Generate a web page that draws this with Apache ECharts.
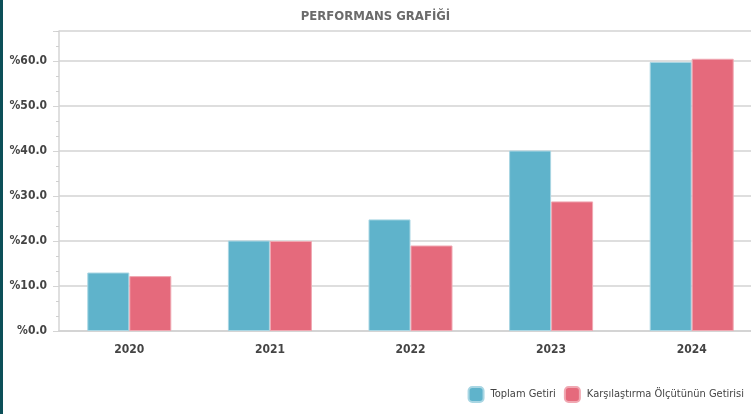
<!DOCTYPE html>
<html>
<head>
<meta charset="utf-8">
<script src="https://cdn.jsdelivr.net/npm/echarts@6/dist/echarts.min.js"></script>
<style>
  html, body { margin: 0; padding: 0; background: #fff; }
  #chart { width: 751px; height: 414px; }
  #edge { position: absolute; left: 0; top: 0; width: 3px; height: 414px; background: #0c4f58; }
</style>
</head>
<body>
<div id="chart"></div>
<div id="edge"></div>
<script>
const years = ['2020', '2021', '2022', '2023', '2024'];
const toplamGetiri = [13.0, 20.1, 24.8, 40.1, 59.8];
const olcutGetirisi = [12.2, 20.0, 19.0, 28.8, 60.5];
const seriesNames = ['Toplam Getiri', 'Karşılaştırma Ölçütünün Getirisi'];

const font = "'DejaVu Sans Condensed', 'Liberation Sans', sans-serif";

const myChart = echarts.init(document.getElementById('chart'));
myChart.setOption({
  animation: false,
  color: ['#5fb3cb', '#e56a7c'],
  title: {
    text: 'PERFORMANS GRAFİĞİ',
    left: 'center',
    top: 5,
    textStyle: { fontFamily: font, fontSize: 13, fontWeight: 'bold', color: '#6b6b6b' },
  },
  legend: {
    right: 2,
    bottom: 6,
    itemWidth: 15,
    itemHeight: 15,
    itemGap: 8,
    icon: 'roundRect',
    textStyle: { fontFamily: font, fontSize: 11, color: '#444', padding: [0, 0, 0, 2] },
    data: seriesNames,
  },
  // plot runs past the right edge in the original screenshot
  grid: { left: 59, top: 31, width: 703, bottom: 83, containLabel: false, outerBoundsMode: 'none' },
  xAxis: {
    type: 'category',
    data: years,
    axisLine: { lineStyle: { color: '#d4d4d4', width: 2 } },
    axisTick: { alignWithLabel: true, length: 5, lineStyle: { color: '#d4d4d4' } },
    axisLabel: { fontFamily: font, fontSize: 12, fontWeight: 'bold', color: '#444', margin: 13 },
  },
  yAxis: {
    type: 'value',
    min: 0,
    max: 66.67,
    interval: 10,
    axisLine: { show: true, lineStyle: { color: '#d4d4d4', width: 1.5 } },
    axisTick: { show: true, length: 6, lineStyle: { color: '#d4d4d4' } },
    minorTick: { show: true, splitNumber: 3, length: 3, lineStyle: { color: '#cfcfcf' } },
    splitLine: { show: true, lineStyle: { color: '#dedede', width: 2 } },
    axisLabel: {
      fontFamily: font, fontSize: 12, fontWeight: 'bold', color: '#444', margin: 12,
      showMaxLabel: false,
      formatter: (v) => '%' + v.toFixed(1),
    },
  },
  series: [
    {
      name: seriesNames[0],
      type: 'bar',
      data: toplamGetiri,
      barWidth: 42,
      barGap: '0%',
      itemStyle: { borderColor: '#a9d6e3', borderWidth: 1 },
    },
    {
      name: seriesNames[1],
      type: 'bar',
      data: olcutGetirisi,
      barWidth: 42,
      itemStyle: { borderColor: '#f0a8b2', borderWidth: 1 },
    },
  ],
});
</script>
</body>
</html>
